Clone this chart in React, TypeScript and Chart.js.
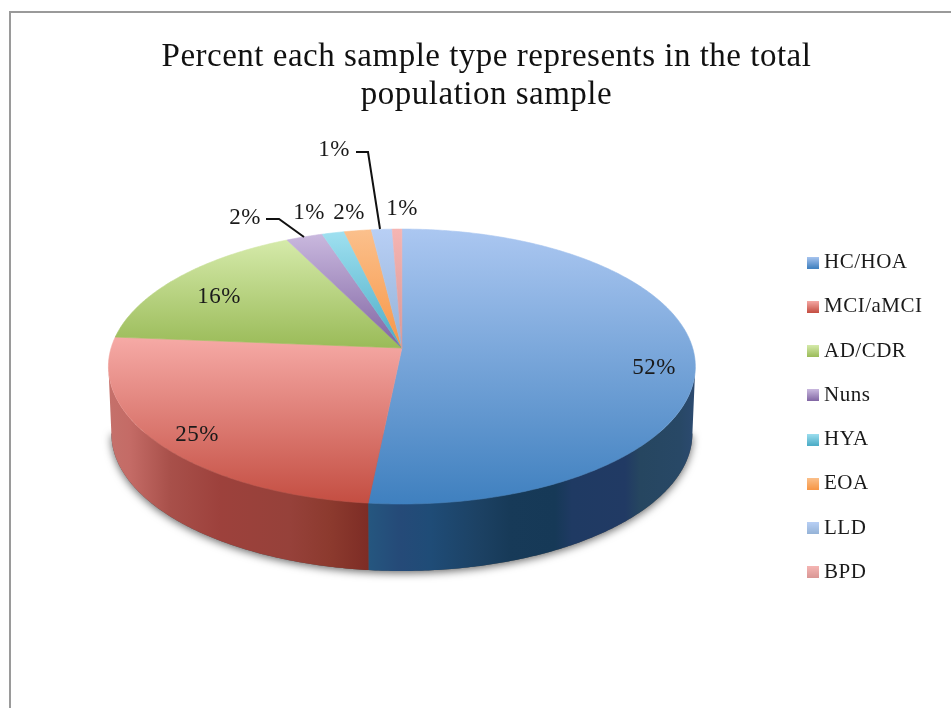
import React, { useEffect, useRef } from "react";
import { Chart, registerables } from "chart.js";

Chart.register(...registerables);

// Sample groups and their share of the total population, in percent.
const categories = ["HC/HOA", "MCI/aMCI", "AD/CDR", "Nuns", "HYA", "EOA", "LLD", "BPD"];
const percentages = [51.6, 24.7, 16.4, 2.3, 1.4, 1.7, 1.3, 0.6];
const titleLines = ["Percent each sample type represents in the total", "population sample"];

// Light (far) and dark (near) end of each slice's vertical gradient.
const lightShades = ["#abc7f1", "#f6aaa6", "#d5eaaa", "#c9b8de", "#9fe0f0", "#fbc08c", "#b8cff5", "#f5b5b3"];
const darkShades = ["#3f80bf", "#c44e42", "#9abb58", "#8064a2", "#4bacc6", "#f79646", "#95b3d7", "#d99694"];

// Rim shading of the two slices whose side wall faces the viewer: [x, colour].
const wallShades: Record<number, [number, string][]> = {
  0: [[369, "#25567f"], [400, "#254a78"], [430, "#1f4c77"], [480, "#1c4163"], [510, "#173a58"], [555, "#163957"],
      [572, "#1f3a63"], [625, "#213a64"], [640, "#264660"], [680, "#284866"], [695, "#2c4a70"]],
  1: [[108, "#c5716b"], [130, "#c46b66"], [170, "#a8504a"], [220, "#9d413c"], [290, "#96413a"], [330, "#8c3a2e"], [369, "#7d2c25"]],
};

// Label centres per slice and the leader lines of the two outlying labels.
const labelCentres: [number, number][] = [[654, 368], [197, 435], [219, 297], [245, 218], [309, 213], [349, 213], [334, 150], [402, 209]];
const leaderLines: [number, number][][] = [
  [[266, 219], [279, 219], [304, 237]],
  [[356, 152], [368, 152], [380, 229]],
];

// Perspective of the tilted disc, relative to the library's arc radius.
const TILT = { k: 0.1346, spanX: 1.1869, spanY: 0.551, depth: 67, floorScale: 0.99, offsetX: -13, offsetY: -13 };
const FONT = '"Liberation Serif", serif';

type Arc = { x: number; y: number; outerRadius: number; startAngle: number; endAngle: number };

function project(arc: Arc, angle: number, floor = false): [number, number] {
  const u = Math.cos(angle);
  const v = -Math.sin(angle);
  const w = 1 + TILT.k * v;
  const cx = arc.x + TILT.offsetX;
  const cy = arc.y + TILT.offsetY;
  const spread = floor ? TILT.floorScale : 1;
  return [
    cx + (TILT.spanX * arc.outerRadius * spread * u) / w,
    cy - (TILT.spanY * arc.outerRadius * v) / w + (floor ? TILT.depth : 0),
  ];
}

function rimPoints(arc: Arc, from: number, to: number, floor = false) {
  const steps = Math.max(2, Math.ceil(Math.abs(to - from) / 0.01));
  const pts: [number, number][] = [];
  for (let i = 0; i <= steps; i++) pts.push(project(arc, from + ((to - from) * i) / steps, floor));
  return pts;
}

function trace(ctx: CanvasRenderingContext2D, pts: [number, number][]) {
  pts.forEach(([x, y], i) => (i ? ctx.lineTo(x, y) : ctx.moveTo(x, y)));
}

const frontFrom = Math.asin(TILT.k);
const frontTo = Math.PI - frontFrom;

const tiltedPie = {
  id: "tiltedPie",
  beforeLayout(chart: Chart) {
    // Slightly open tracking brings the serif text up to its set width.
    (chart.ctx as any).letterSpacing = "0.5px";
  },
  beforeDraw(chart: Chart) {
    const { ctx, width, height } = chart;
    ctx.save();
    ctx.fillStyle = "#ffffff";
    ctx.fillRect(0, 0, width, height);
    ctx.fillStyle = "#9a9a9a";
    ctx.fillRect(9, 11, 2, height - 11);
    ctx.fillRect(9, 11, width - 9, 2);
    ctx.restore();
  },
  beforeDatasetDraw(chart: Chart) {
    const { ctx } = chart;
    const arcs = chart.getDatasetMeta(0).data as unknown as Arc[];
    ctx.save();

    // Soft shadow cast under the front of the disc.
    const base = arcs[0];
    ctx.save();
    ctx.shadowColor = "rgba(0,0,0,0.6)";
    ctx.shadowBlur = 9;
    ctx.shadowOffsetY = 2;
    ctx.fillStyle = "#555";
    ctx.beginPath();
    trace(ctx, rimPoints(base, frontFrom, frontTo, true));
    ctx.closePath();
    ctx.fill();
    ctx.restore();

    // Side walls.
    arcs.forEach((arc, i) => {
      const from = Math.max(arc.startAngle, frontFrom);
      const to = Math.min(arc.endAngle, frontTo);
      if (to <= from || !wallShades[i]) return;
      const stops = wallShades[i];
      const x0 = stops[0][0];
      const x1 = stops[stops.length - 1][0];
      const fill = ctx.createLinearGradient(x0, 0, x1, 0);
      stops.forEach(([x, c]) => fill.addColorStop((x - x0) / (x1 - x0), c));
      ctx.fillStyle = fill;
      ctx.beginPath();
      trace(ctx, rimPoints(arc, from, to));
      rimPoints(arc, to, from, true).forEach(([x, y]) => ctx.lineTo(x, y));
      ctx.closePath();
      ctx.fill();
    });

    // Top surface, each slice with its own vertical gradient.
    arcs.forEach((arc, i) => {
      const apex: [number, number] = [arc.x + TILT.offsetX, arc.y + TILT.offsetY];
      const pts = rimPoints(arc, arc.startAngle, arc.endAngle);
      const ys = pts.map((p) => p[1]).concat(apex[1]);
      const fill = ctx.createLinearGradient(0, Math.min(...ys), 0, Math.max(...ys));
      fill.addColorStop(0, lightShades[i]);
      fill.addColorStop(1, darkShades[i]);
      ctx.fillStyle = fill;
      ctx.strokeStyle = fill;
      ctx.lineWidth = 0.6;
      ctx.beginPath();
      ctx.moveTo(apex[0], apex[1]);
      pts.forEach(([x, y]) => ctx.lineTo(x, y));
      ctx.closePath();
      ctx.fill();
      ctx.stroke();
    });
    ctx.restore();
    return false;
  },
  afterDatasetsDraw(chart: Chart) {
    const { ctx } = chart;
    ctx.save();
    ctx.strokeStyle = "#111111";
    ctx.lineWidth = 2;
    leaderLines.forEach((line) => {
      ctx.beginPath();
      trace(ctx, line);
      ctx.stroke();
    });
    ctx.fillStyle = "#1a1a1a";
    ctx.font = `23px ${FONT}`;
    ctx.textAlign = "center";
    ctx.textBaseline = "middle";
    percentages.forEach((p, i) => {
      ctx.fillText(`${Math.round(p)}%`, labelCentres[i][0], labelCentres[i][1]);
    });
    ctx.restore();
  },
};

// Twelve pixel gradient swatch used as the legend marker.
function swatch(i: number) {
  const c = document.createElement("canvas");
  c.width = 12;
  c.height = 12;
  const g = c.getContext("2d")!;
  const fill = g.createLinearGradient(0, 0, 0, 12);
  fill.addColorStop(0, lightShades[i]);
  fill.addColorStop(1, darkShades[i]);
  g.fillStyle = fill;
  g.fillRect(0, 0, 12, 12);
  return c;
}

export default function App() {
  const ref = useRef<HTMLCanvasElement>(null);
  useEffect(() => {
    const chart = new Chart(ref.current!, {
      type: "pie",
      data: {
        labels: categories,
        datasets: [{ data: percentages, backgroundColor: darkShades, borderWidth: 0 }],
      },
      options: {
        responsive: false,
        animation: false,
        layout: { padding: { left: 40.5, right: 18.5, top: 0, bottom: 102 } },
        plugins: {
          tooltip: { enabled: false },
          title: {
            display: true,
            text: titleLines,
            color: "#111111",
            font: { family: FONT, size: 33, weight: "normal", lineHeight: 1.152 },
            padding: { top: 38, bottom: 2 },
          },
          legend: {
            position: "right",
            align: "end",
            labels: {
              color: "#1a1a1a",
              font: { family: FONT, size: 21 },
              padding: 23.25,
              boxWidth: 1,
              usePointStyle: true,
              generateLabels: () =>
                categories.map((text, i) => ({
                  text,
                  pointStyle: swatch(i),
                  fontColor: "#1a1a1a",
                  lineWidth: 0,
                  datasetIndex: 0,
                  index: i,
                })),
            },
          },
        },
      } as any,
      plugins: [tiltedPie as any],
    });
    return () => chart.destroy();
  }, []);
  return (
    <canvas
      ref={ref}
      width={951}
      height={708}
      style={{ position: "fixed", left: 0, top: 0, display: "block" }}
    />
  );
}
